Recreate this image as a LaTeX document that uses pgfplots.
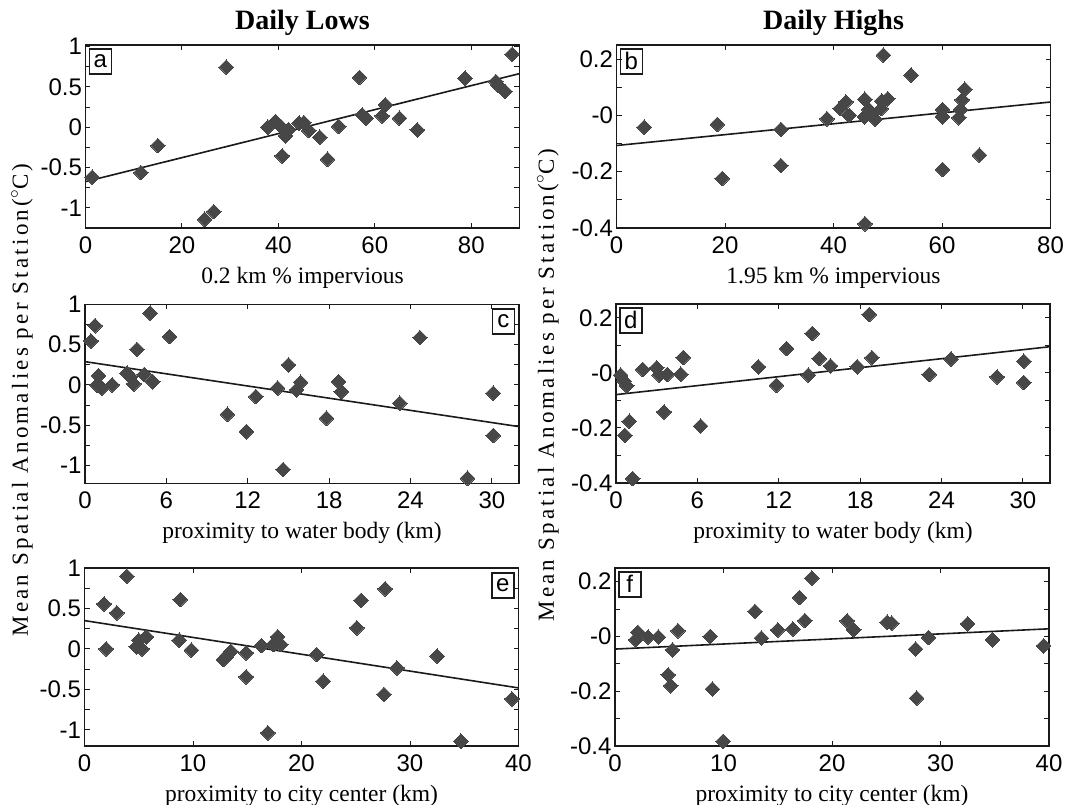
\documentclass[border=0pt]{standalone}
\usepackage{pgfplots}
\pgfplotsset{compat=1.18}
\usepackage{fontspec}
\setmainfont{Liberation Serif}
\setsansfont{Liberation Sans}
\newfontfamily\ylabfont[LetterSpace=14]{Liberation Serif}
\definecolor{mk}{HTML}{474747}
\definecolor{axc}{HTML}{1A1A1A}

\tikzset{
  boxl/.style={draw=axc, line width=1.5pt, inner sep=0pt, minimum width=22pt, minimum height=25pt,
    font=\sffamily\fontsize{24}{24}\selectfont},
}
\pgfplotsset{
  panel/.style={
    scale only axis, width=434pt,
    axis line style={line width=1.5pt, color=axc},
    tick style={line width=0.9pt, color=axc},
    tick align=inside, major tick length=5pt, minor tick length=5pt,
    xtick pos=both, ytick pos=both,
    clip=false,
    ticklabel style={font=\sffamily\fontsize{24}{24}\selectfont},
    xticklabel style={anchor=base, yshift=-25pt},
    x label style={at={(axis description cs:0.5,0)}, anchor=base, yshift=-55pt,
      font=\fontsize{23.5}{26}\selectfont},
    title style={at={(axis description cs:0.5,1)}, anchor=base, yshift=10pt,
      font=\bfseries\fontsize{28}{30}\selectfont},
  },
  lowy/.style={ytick={-1,-0.5,0,0.5,1}, yticklabels={-1,-0.5,0,0.5,1},
    minor ytick={-0.75,-0.25,0.25,0.75}},
  highy/.style={ymin=-0.4, ymax=0.25, ytick={-0.4,-0.2,0,0.2}, yticklabels={-0.4,-0.2,-0,0.2},
    minor ytick={-0.3,-0.1,0.1}},
  pts/.style={only marks, mark=square*, mark size=5.2pt,
    mark options={rotate=45, fill=mk, draw=mk, line width=0pt}},
  fit/.style={no marks, line width=1.6pt, color=axc},
  ylab/.style={ylabel style={rotate=0, anchor=center, font=\ylabfont\fontsize{23}{26}\selectfont}},
}

\begin{document}
\begin{tikzpicture}
\useasboundingbox (0pt,0pt) rectangle (1069pt,-804pt);

% ---- a: daily lows vs 0.2 km impervious
\begin{axis}[panel, lowy, height=183pt, at={(85.5pt,-228pt)}, anchor=south west,
  xmin=0, xmax=90, ymin=-1.25, ymax=1.02,
  xtick={0,20,40,60,80}, xticklabels={0,20,40,60,80},
  title={Daily Lows}, xlabel={0.2 km \% impervious}]
\addplot[pts] coordinates {
 (1.4,-0.62)(11.5,-0.563)(15.0,-0.228)(24.7,-1.142)(26.6,-1.047)(29.2,0.745)
 (37.8,0.0)(39.4,0.07)(40.5,0.01)(40.8,-0.356)(41.5,-0.107)(42.1,-0.03)
 (44.3,0.05)(45.3,0.058)(46.3,-0.04)(48.6,-0.124)(50.2,-0.397)(52.5,0.01)
 (56.8,0.617)(57.4,0.153)(58.2,0.11)(61.5,0.14)(62.2,0.277)(65.1,0.112)
 (68.8,-0.033)(78.7,0.608)(85.1,0.567)(85.6,0.52)(87.0,0.443)(88.5,0.906)};
\addplot[fit] coordinates {(0,-0.675)(90,0.665)};
\node[boxl, anchor=north west, xshift=3pt, yshift=-3pt] at (rel axis cs:0,1) {a};
\end{axis}

% ---- b: daily highs vs 1.95 km impervious
\begin{axis}[panel, highy, height=183pt, at={(616.5pt,-228pt)}, anchor=south west,
  xmin=0, xmax=80,
  xtick={0,20,40,60,80}, xticklabels={0,20,40,60,80},
  title={Daily Highs}, xlabel={1.95 km \% impervious}]
\addplot[pts] coordinates {
 (5.1,-0.042)(18.6,-0.032)(19.5,-0.224)(30.3,-0.05)(30.3,-0.178)(38.8,-0.012)
 (41.2,0.024)(42.3,0.048)(42.9,0.0)(45.8,0.057)(45.7,-0.005)(45.8,-0.385)
 (46.5,0.021)(47.1,0.004)(47.7,-0.014)(48.8,0.024)(49.2,0.214)(48.9,0.051)
 (50.0,0.059)(54.3,0.143)(60.1,0.021)(60.1,-0.005)(60.1,-0.192)(63.1,-0.008)
 (63.4,0.021)(63.7,0.055)(64.2,0.093)(66.9,-0.141)};
\addplot[fit] coordinates {(0,-0.107)(80,0.0475)};
\node[boxl, anchor=north west, xshift=3pt, yshift=-3pt] at (rel axis cs:0,1) {b};
\end{axis}

% ---- c: daily lows vs water body
\begin{axis}[panel, lowy, ylab, height=179pt, at={(85pt,-483.3pt)}, anchor=south west,
  xmin=0, xmax=32, ymin=-1.22, ymax=1.0,
  xtick={0,6,12,18,24,30}, xticklabels={0,6,12,18,24,30},
  xlabel={proximity to water body (km)},
  ylabel={Mean Spatial Anomalies per Station($^\circ$C)},
  ylabel style={at={(axis description cs:-0.145,0.465)}}]
\addplot[pts] coordinates {
 (0.44,0.545)(0.74,0.735)(0.88,0.0)(1.0,0.116)(1.25,-0.04)(2.0,0.0)
 (3.1,0.145)(3.34,0.1)(3.6,0.012)(3.83,0.44)(4.37,0.13)(4.8,0.89)
 (5.0,0.04)(6.24,0.6)(10.5,-0.364)(11.9,-0.58)(12.6,-0.145)(14.2,-0.04)
 (14.6,-1.05)(15.0,0.248)(15.6,-0.06)(15.9,0.033)(18.7,0.04)(18.9,-0.083)
 (17.8,-0.413)(23.2,-0.227)(24.7,0.587)(28.2,-1.157)(30.1,-0.103)(30.1,-0.628)};
\addplot[fit] coordinates {(0,0.289)(32,-0.517)};
\node[boxl, anchor=north east, xshift=-4pt, yshift=-4pt] at (rel axis cs:1,1) {c};
\end{axis}

% ---- d: daily highs vs water body
\begin{axis}[panel, highy, ylab, height=179pt, at={(616pt,-483pt)}, anchor=south west,
  xmin=0, xmax=32,
  xtick={0,6,12,18,24,30}, xticklabels={0,6,12,18,24,30},
  xlabel={proximity to water body (km)},
  ylabel={Mean Spatial Anomalies per Station($^\circ$C)},
  ylabel style={at={(axis description cs:-0.157,0.547)}}]
\addplot[pts] coordinates {
 (0.34,-0.008)(0.59,-0.03)(0.79,-0.047)(0.66,-0.227)(0.98,-0.176)(1.23,-0.384)
 (1.97,0.012)(3.0,0.018)(3.19,-0.008)(3.54,-0.142)(3.78,-0.006)(4.77,-0.005)
 (4.96,0.056)(6.24,-0.193)(10.5,0.022)(11.84,-0.045)(12.58,0.088)(14.18,-0.008)
 (14.47,0.143)(14.99,0.052)(15.82,0.025)(17.79,0.022)(18.67,0.212)(18.87,0.055)
 (23.1,-0.006)(24.7,0.05)(28.1,-0.015)(30.07,0.042)(30.07,-0.035)};
\addplot[fit] coordinates {(0,-0.079)(32,0.095)};
\node[boxl, anchor=north west, xshift=3pt, yshift=-3pt] at (rel axis cs:0,1) {d};
\end{axis}

% ---- e: daily lows vs city center
\begin{axis}[panel, lowy, height=178pt, at={(84.5pt,-746pt)}, anchor=south west,
  xmin=0, xmax=40, ymin=-1.2, ymax=1.0,
  xtick={0,10,20,30,40}, xticklabels={0,10,20,30,40},
  xlabel={proximity to city center (km)}]
\addplot[pts] coordinates {
 (1.8,0.556)(2.0,0.0)(2.98,0.445)(3.9,0.898)(4.77,0.025)(5.0,0.107)
 (5.3,0.0)(5.7,0.148)(8.83,0.61)(8.74,0.107)(9.85,-0.016)(12.8,-0.132)
 (13.1,-0.09)(13.5,-0.03)(14.9,-0.05)(14.9,-0.346)(16.3,0.041)(16.9,-1.038)
 (17.4,0.054)(17.8,0.148)(18.1,0.054)(21.4,-0.07)(22.0,-0.4)(25.1,0.26)
 (25.5,0.6)(27.7,0.742)(27.6,-0.564)(28.8,-0.235)(32.5,-0.09)(34.7,-1.141)
 (39.4,-0.618)};
\addplot[fit] coordinates {(0,0.35)(40,-0.482)};
\node[boxl, anchor=north east, xshift=-4pt, yshift=-4pt] at (rel axis cs:1,1) {e};
\end{axis}

% ---- f: daily highs vs city center
\begin{axis}[panel, highy, height=178pt, at={(615pt,-746pt)}, anchor=south west,
  xmin=0, xmax=40,
  xtick={0,10,20,30,40}, xticklabels={0,10,20,30,40},
  xlabel={proximity to city center (km)}]
\addplot[pts] coordinates {
 (1.9,-0.012)(2.1,0.015)(3.05,-0.002)(4.0,-0.002)(4.9,-0.14)(5.14,-0.18)
 (5.3,-0.049)(5.8,0.021)(8.77,0.0)(8.98,-0.192)(9.97,-0.383)(12.9,0.091)
 (13.5,-0.006)(15.0,0.024)(16.4,0.027)(17.0,0.142)(17.5,0.058)(18.15,0.213)
 (21.4,0.057)(22.0,0.024)(25.1,0.052)(25.5,0.049)(27.7,-0.046)(27.8,-0.225)
 (28.9,-0.004)(32.5,0.046)(34.8,-0.012)(39.5,-0.034)};
\addplot[fit] coordinates {(0,-0.046)(40,0.028)};
\node[boxl, anchor=north west, xshift=3pt, yshift=-3pt] at (rel axis cs:0,1) {f};
\end{axis}
\end{tikzpicture}
\end{document}
